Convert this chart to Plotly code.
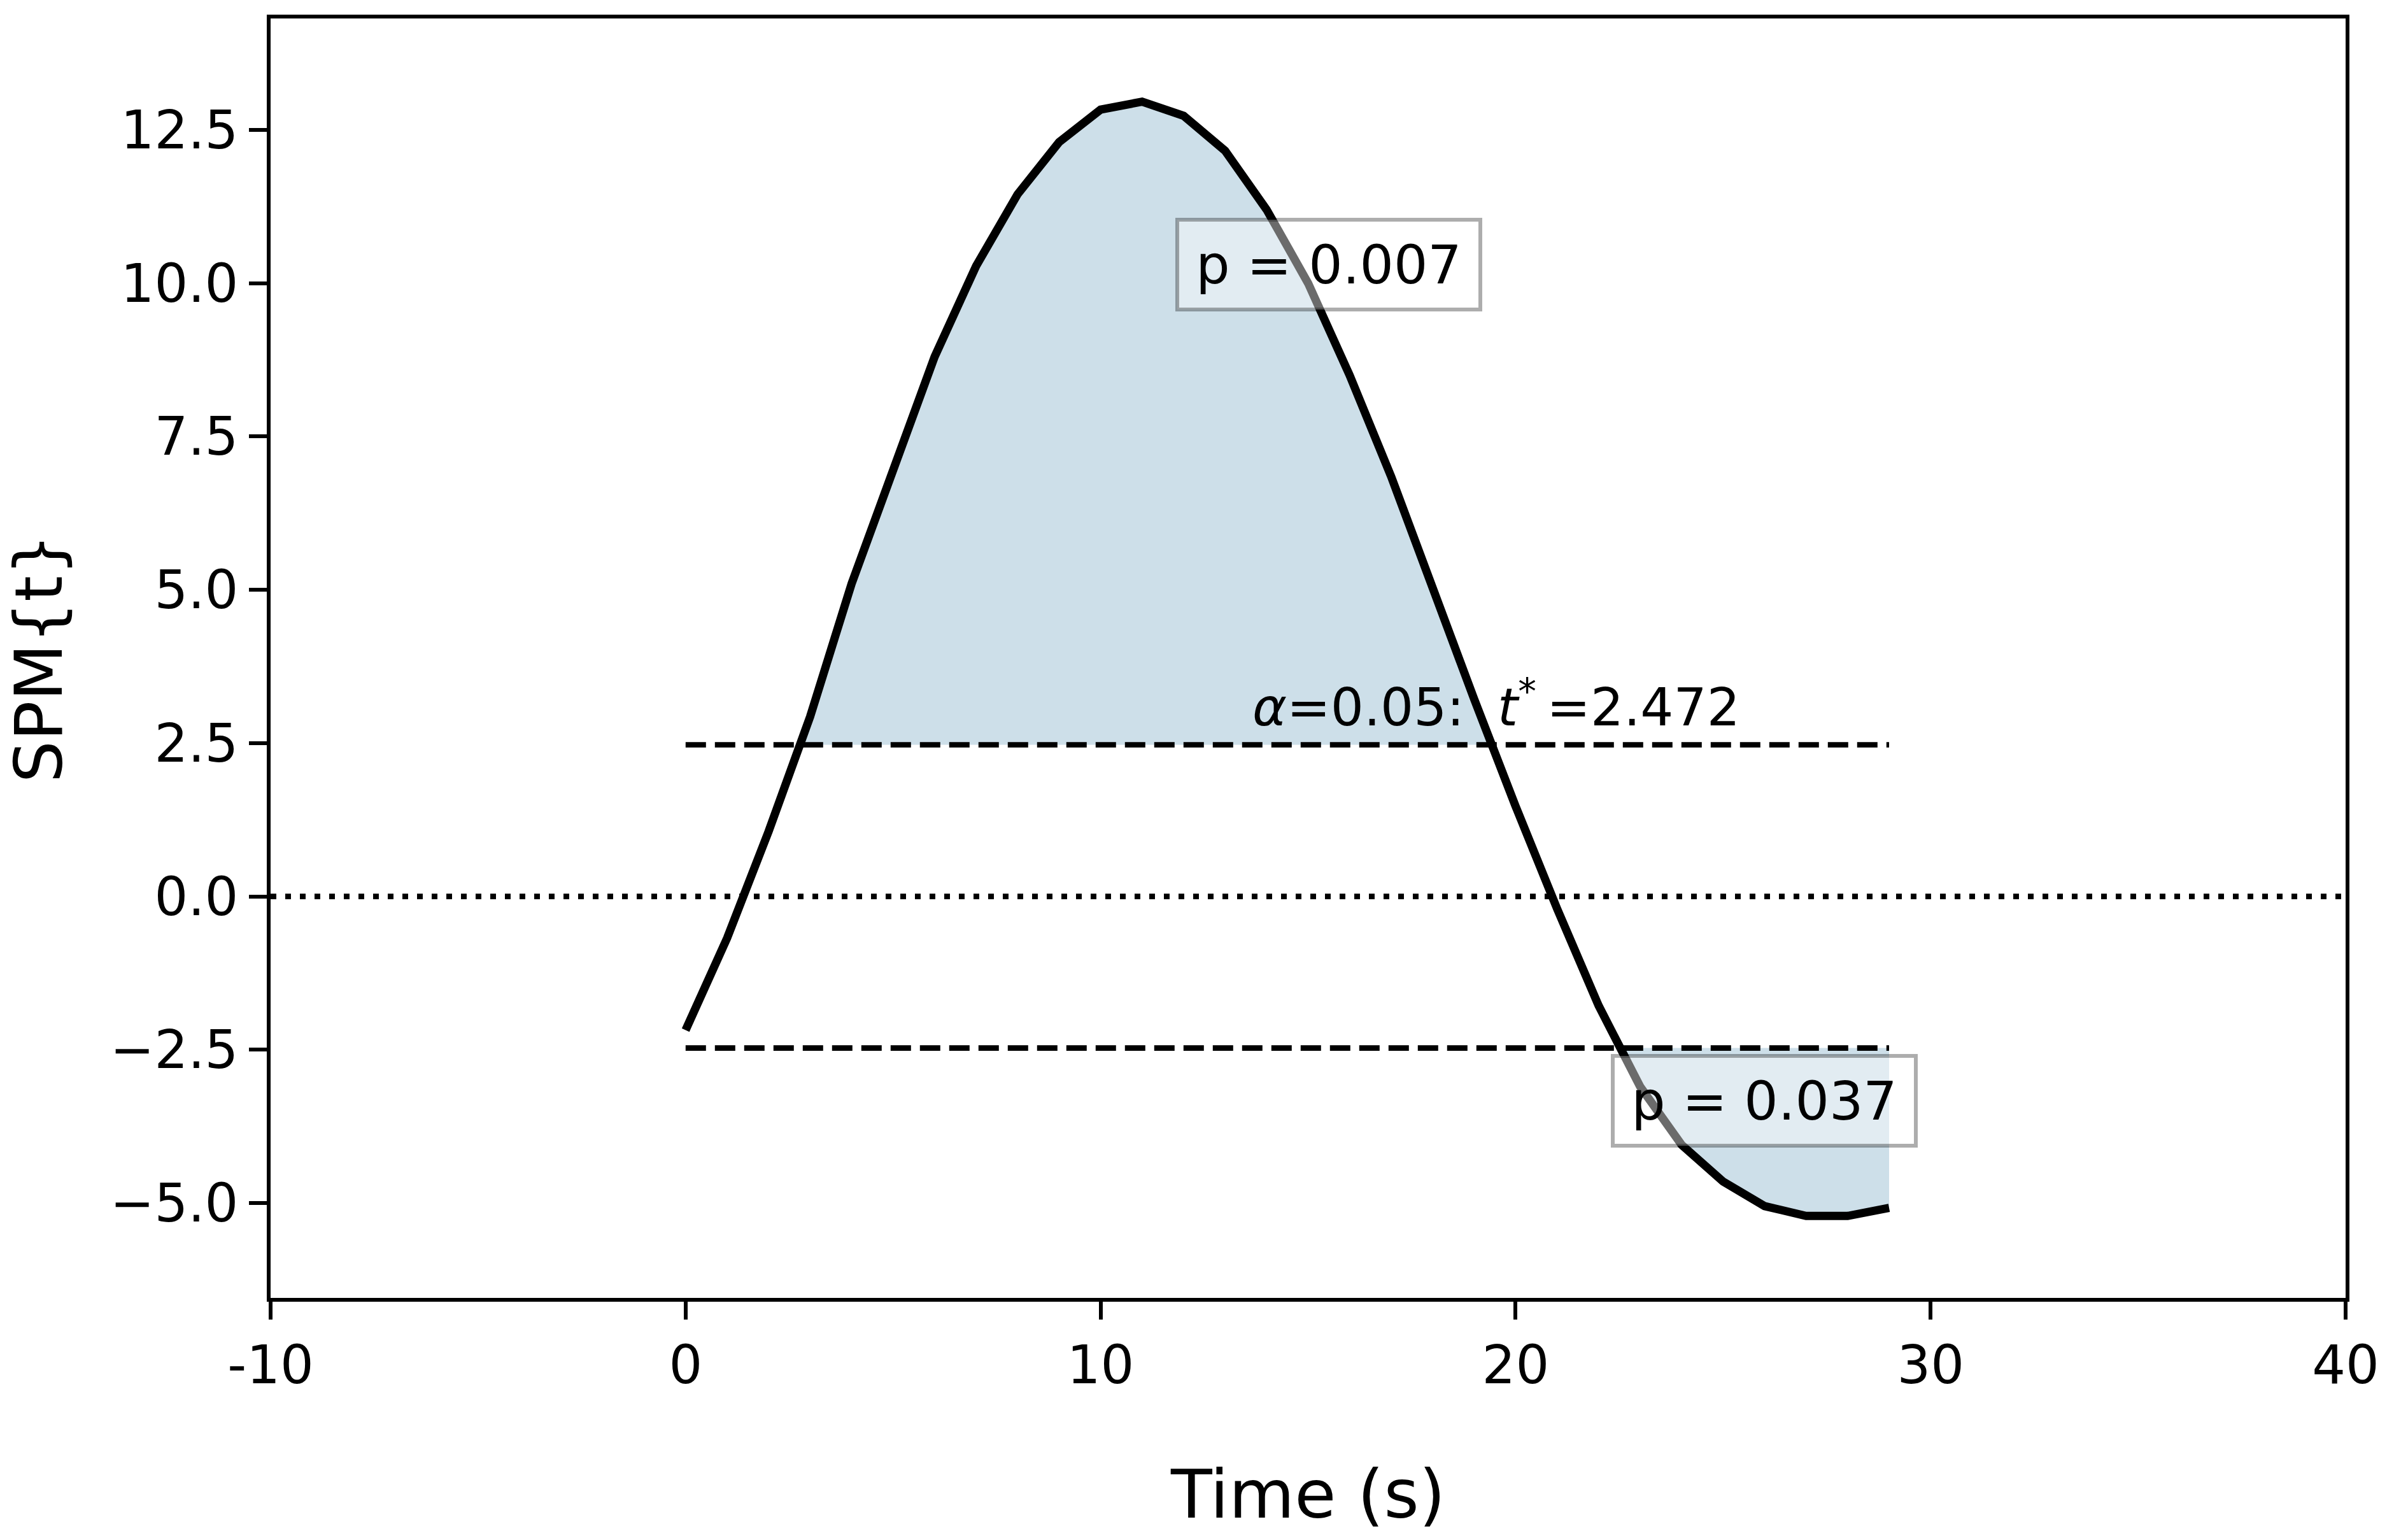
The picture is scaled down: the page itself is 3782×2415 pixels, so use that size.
import numpy as np
import plotly.graph_objects as go

# SPM{t} trajectory sampled once per second
time_s = list(range(30))
spm_t = [-2.18, -0.68, 1.06, 2.93, 5.10, 7.00, 8.80, 10.28, 11.45, 12.30,
         12.83, 12.96, 12.73, 12.16, 11.20, 10.00, 8.50, 6.85, 5.00, 3.22,
         1.47, -0.20, -1.78, -3.10, -4.05, -4.65, -5.05, -5.21, -5.21, -5.08]

alpha = 0.05
t_crit = 2.472
cluster_p = ["p = 0.007", "p = 0.037"]
cluster_label_pos = [(15.5, 10.3), (26.0, -3.33)]

x_ticks = [-10, 0, 10, 20, 30, 40]
x_ticktext = ["-10", "0", "10", "20", "30", "40"]
y_ticks = [-5.0, -2.5, 0.0, 2.5, 5.0, 7.5, 10.0, 12.5]
y_ticktext = ["\u22125.0", "\u22122.5", "0.0", "2.5", "5.0", "7.5", "10.0", "12.5"]

FONT = "DejaVu Sans"
FILL = "#cddfe9"


def supra_clusters(x, y, h):
    """Polygons of the regions where y exceeds h, closed along y = h."""
    x = np.asarray(x, float)
    y = np.asarray(y, float)
    n = len(x)
    above = y > h
    polys = []
    i = 0
    while i < n:
        if not above[i]:
            i += 1
            continue
        j = i
        while j + 1 < n and above[j + 1]:
            j += 1
        xs, ys = [], []
        if i > 0:
            xa = x[i - 1] + (h - y[i - 1]) * (x[i] - x[i - 1]) / (y[i] - y[i - 1])
        else:
            xa = x[i]
        xs.append(xa)
        ys.append(h)
        xs += list(x[i:j + 1])
        ys += list(y[i:j + 1])
        if j < n - 1:
            xb = x[j] + (h - y[j]) * (x[j + 1] - x[j]) / (y[j + 1] - y[j])
        else:
            xb = x[j]
        xs.append(xb)
        ys.append(h)
        xs.append(xa)
        ys.append(h)
        polys.append((xs, ys))
        i = j + 1
    return polys


fig = go.Figure()

# suprathreshold clusters (positive and negative)
polys = supra_clusters(time_s, spm_t, t_crit)
for xs, ys in supra_clusters(time_s, [-v for v in spm_t], t_crit):
    polys.append((xs, [-v for v in ys]))
for xs, ys in polys:
    fig.add_trace(go.Scatter(x=xs, y=ys, mode="lines", fill="toself",
                             fillcolor=FILL, line=dict(width=0),
                             hoverinfo="skip", showlegend=False))

# zero reference line
fig.add_trace(go.Scatter(x=[x_ticks[0], x_ticks[-1]], y=[0, 0], mode="lines",
                         line=dict(color="black", width=8.6, dash="9px,14px"),
                         hoverinfo="skip", showlegend=False))

# critical thresholds
for h in (t_crit, -t_crit):
    fig.add_trace(go.Scatter(x=[time_s[0], time_s[-1]], y=[h, h], mode="lines",
                             line=dict(color="black", width=8.6, dash="32px,14px"),
                             hoverinfo="skip", showlegend=False))

# test statistic
fig.add_trace(go.Scatter(x=time_s, y=spm_t, mode="lines",
                         line=dict(color="black", width=13),
                         hoverinfo="skip", showlegend=False))

# cluster p-values
for txt, (px, py) in zip(cluster_p, cluster_label_pos):
    fig.add_annotation(x=px, y=py, text=txt, showarrow=False,
                       font=dict(family=FONT, size=84, color="black"),
                       bgcolor="rgba(255,255,255,0.42)",
                       bordercolor="rgba(0,0,0,0.32)", borderwidth=6,
                       borderpad=0, width=470, height=135,
                       xanchor="center", yanchor="middle")

# threshold label
fig.add_annotation(x=13.62, y=3.14,
                   text=f"<i>\u03b1</i>={alpha}:\u00a0\u00a0<i>t</i><sup>*</sup>\u2009={t_crit}",
                   showarrow=False, xanchor="left", yanchor="middle",
                   font=dict(family=FONT, size=82, color="black"))

axis_common = dict(showline=True, linecolor="black", linewidth=6, mirror=True,
                   ticks="outside", ticklen=28, tickwidth=6, tickcolor="black",
                   showgrid=False, zeroline=False,
                   tickfont=dict(family=FONT, size=83, color="black"))

fig.update_xaxes(range=[-10, 40], tickvals=x_ticks, ticktext=x_ticktext,
                 title=dict(text="Time (s)", font=dict(family=FONT, size=106, color="black"),
                            standoff=120),
                 **axis_common)
fig.update_yaxes(range=[-6.547, 14.317], tickvals=y_ticks, ticktext=y_ticktext,
                 title=dict(text="SPM{t}", font=dict(family=FONT, size=104, color="black"),
                            standoff=60),
                 **axis_common)

fig.update_layout(width=3782, height=2415,
                  margin=dict(l=425, r=98, t=29, b=377, autoexpand=False),
                  paper_bgcolor="white", plot_bgcolor="white",
                  font=dict(family=FONT, color="black"))

fig.write_html("out.html")
